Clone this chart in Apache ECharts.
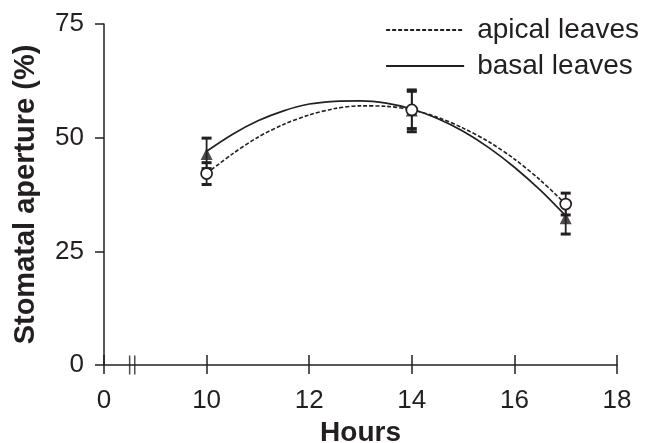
<!DOCTYPE html>
<html>
<head>
<meta charset="utf-8">
<script src="https://cdn.jsdelivr.net/npm/echarts@6/dist/echarts.min.js"></script>
<style>
  html, body { margin: 0; padding: 0; background: #fff; }
  #chart { width: 646px; height: 443px; }
</style>
</head>
<body>
<div id="chart"></div>
<script>
// hours axis is broken: the first tick (8) is labelled 0
const breakTickLabel = '0'
const breakMarks = [8.5, 8.6]

// measured points (hour, mean) and error bar ends (hour, low, high)
const apicalPoints = [[10, 42.1], [14, 56.1], [17, 35.4]]
const apicalErrors = [[10, 39.7, 44.5], [14, 51.3, 60.5], [17, 33.0, 37.8]]
const basalPoints = [[10, 46.4], [14, 56.0], [17, 32.3]]
const basalErrors = [[10, 43.2, 49.9], [14, 52.0, 60.2], [17, 28.8, 35.8]]

// fitted curves, every half hour
const curveHours = [10, 10.5, 11, 11.5, 12, 12.5, 13, 13.5, 14, 14.5, 15, 15.5, 16, 16.5, 17]
const apicalCurve = [42.1, 46.4, 50.1, 52.9, 55.0, 56.4, 57.0, 56.9, 56.1, 54.5, 52.1, 49.1, 45.3, 40.7, 35.4]
const basalCurve = [47.0, 50.7, 53.7, 55.9, 57.4, 58.0, 58.1, 57.6, 56.3, 54.2, 51.4, 47.8, 43.5, 38.5, 32.8]

const ink = '#231f20'
const font = 'Liberation Sans, Arial, sans-serif'

const chart = echarts.init(document.getElementById('chart'))

const errorBarItem = (params, api) => {
  const top = api.coord([api.value(0), api.value(2)])
  const bottom = api.coord([api.value(0), api.value(1)])
  const half = 5
  const style = { stroke: ink, lineWidth: 1.8 }
  const capStyle = { stroke: ink, lineWidth: 3 }
  return {
    type: 'group',
    children: [
      { type: 'line', shape: { x1: top[0], y1: top[1], x2: bottom[0], y2: bottom[1] }, style },
      { type: 'line', shape: { x1: top[0] - half, y1: top[1], x2: top[0] + half, y2: top[1] }, style: capStyle },
      { type: 'line', shape: { x1: bottom[0] - half, y1: bottom[1], x2: bottom[0] + half, y2: bottom[1] }, style: capStyle }
    ]
  }
}

const axisCommon = {
  type: 'value',
  min: 8,
  max: 18,
  interval: 2
}

const option = {
  animation: false,
  backgroundColor: '#fff',
  textStyle: { fontFamily: font, color: ink },
  grid: { left: 104, right: 29, top: 24, bottom: 78, outerBoundsMode: 'none', containLabel: false },
  legend: {
    orient: 'vertical',
    right: 2,
    top: 11,
    itemWidth: 78,
    itemHeight: 14,
    itemGap: 8,
    data: ['apical leaves', 'basal leaves'],
    itemStyle: { opacity: 0 },
    textStyle: { fontSize: 28, color: ink, fontFamily: font, padding: [0, 0, 0, 8] }
  },
  xAxis: [
    {
      ...axisCommon,
      name: 'Hours',
      nameLocation: 'middle',
      nameGap: 53,
      nameTextStyle: { fontSize: 28, fontWeight: 'bold', color: ink, fontFamily: font },
      splitLine: { show: false },
      axisLine: { lineStyle: { color: ink, width: 1.5 } },
      axisTick: { length: 9, lineStyle: { color: ink, width: 1.5 } },
      axisLabel: {
        fontSize: 26,
        color: ink,
        margin: 23,
        formatter: v => (v === 8 ? breakTickLabel : String(v))
      }
    },
    {
      ...axisCommon,
      position: 'bottom',
      splitLine: { show: false },
      axisLine: { show: false },
      axisLabel: { show: false },
      axisTick: { inside: true, length: 10, lineStyle: { color: ink, width: 1.5 } }
    }
  ],
  yAxis: {
    type: 'value',
    min: 0,
    max: 75,
    interval: 25,
    name: 'Stomatal aperture (%)',
    nameLocation: 'middle',
    nameGap: 64,
    nameTextStyle: { fontSize: 29, fontWeight: 'bold', color: ink, fontFamily: font },
    splitLine: { show: false },
    axisLine: { show: true, lineStyle: { color: ink, width: 1.5 } },
    axisTick: { show: true, length: 9, lineStyle: { color: ink, width: 1.5 } },
    axisLabel: { fontSize: 26, color: ink, margin: 20 }
  },
  series: [
    {
      name: 'apical leaves',
      type: 'line',
      symbol: 'none',
      smooth: 0.3,
      data: curveHours.map((h, i) => [h, apicalCurve[i]]),
      lineStyle: { color: ink, width: 1.6, type: [4, 2] },
      z: 2
    },
    {
      name: 'basal leaves',
      type: 'line',
      symbol: 'none',
      smooth: 0.3,
      data: curveHours.map((h, i) => [h, basalCurve[i]]),
      lineStyle: { color: ink, width: 1.7 },
      z: 2
    },
    {
      type: 'custom',
      renderItem: errorBarItem,
      data: basalErrors,
      z: 3
    },
    {
      type: 'custom',
      renderItem: errorBarItem,
      data: apicalErrors,
      z: 3
    },
    {
      type: 'scatter',
      symbol: 'triangle',
      symbolSize: [12, 12],
      data: basalPoints,
      itemStyle: { color: ink },
      z: 4
    },
    {
      type: 'scatter',
      symbol: 'circle',
      symbolSize: 11,
      data: apicalPoints,
      itemStyle: { color: '#fff', borderColor: ink, borderWidth: 1.7, opacity: 1 },
      z: 5
    },
    {
      type: 'scatter',
      symbol: 'rect',
      symbolSize: [1.5, 19],
      clip: false,
      silent: true,
      data: breakMarks.map(h => [h, 0]),
      itemStyle: { color: ink },
      z: 6
    }
  ]
}

chart.setOption(option)
</script>
</body>
</html>
